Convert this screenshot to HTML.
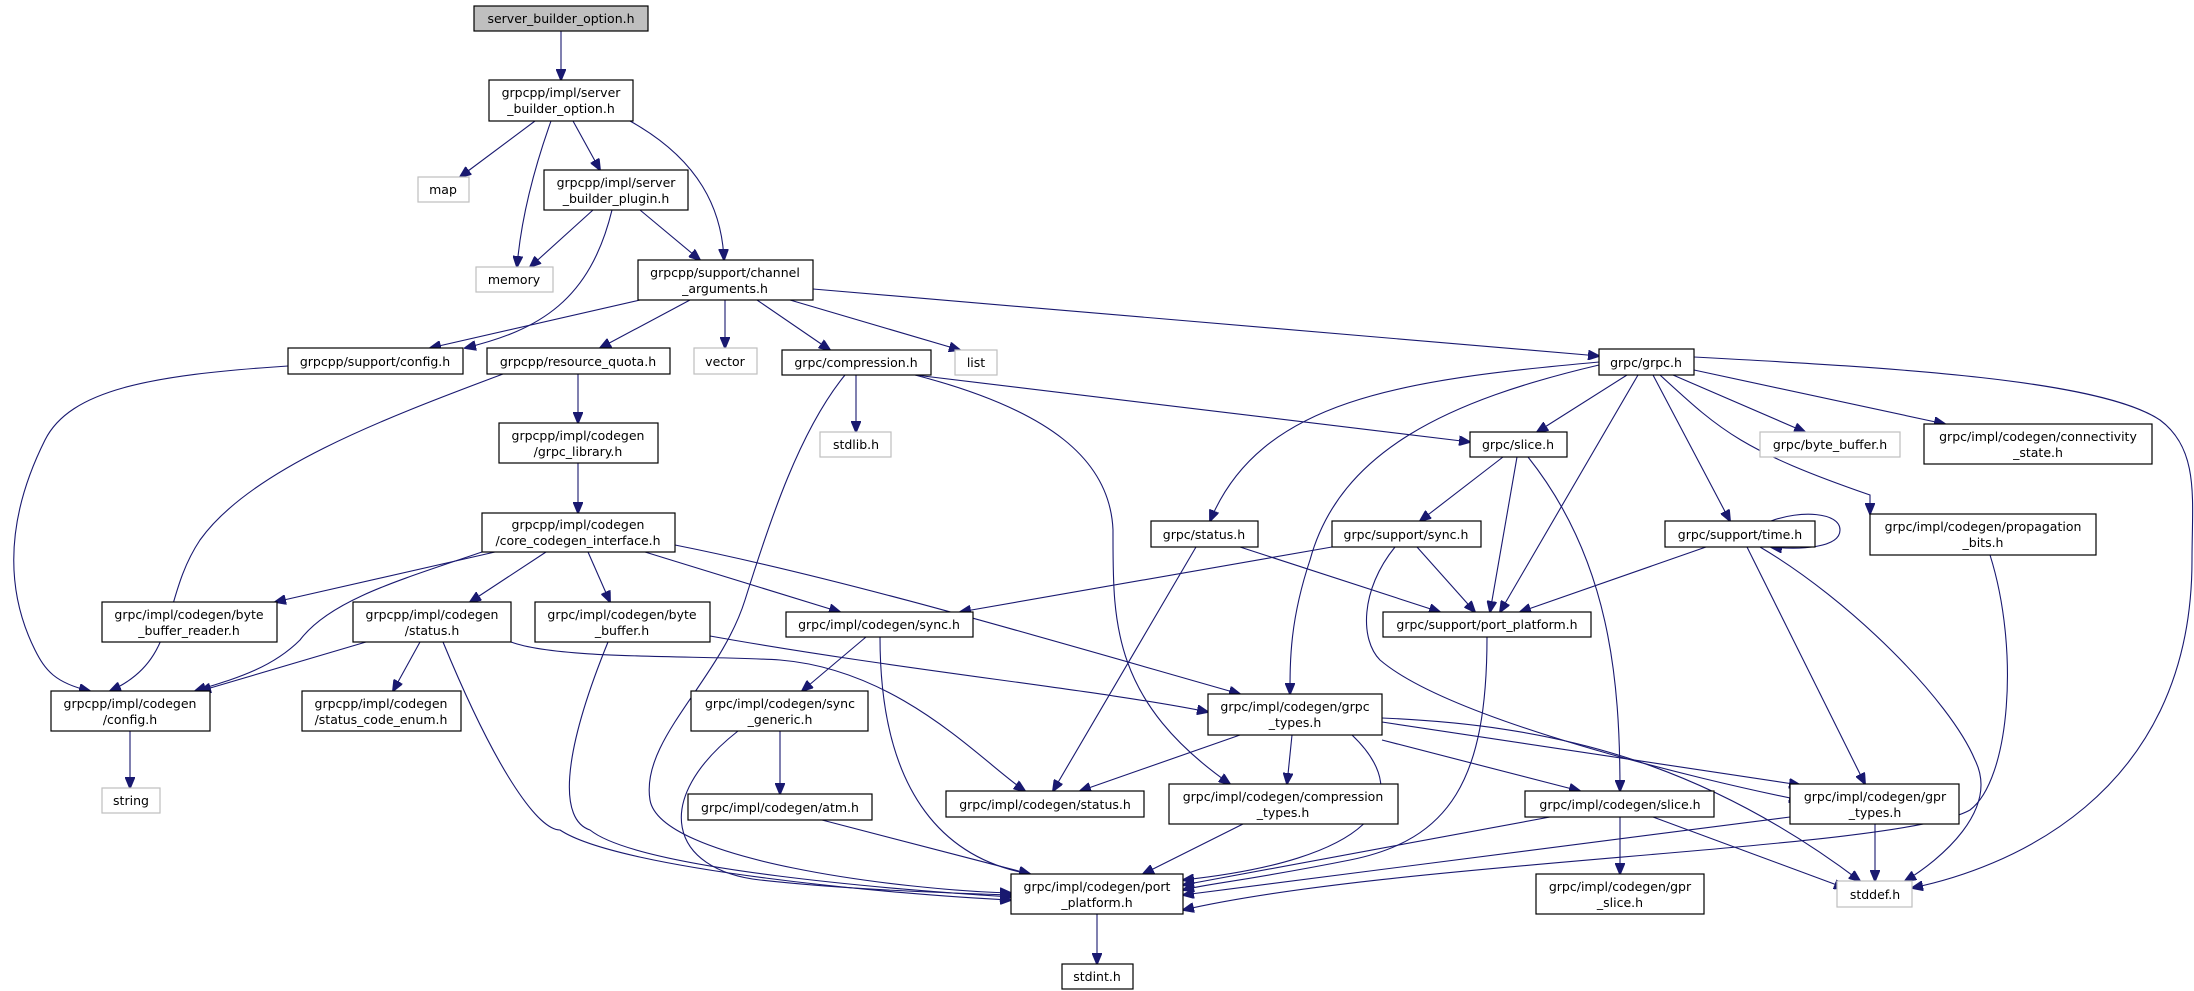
<!DOCTYPE html>
<html><head><meta charset="utf-8"><style>
html,body{margin:0;padding:0;background:#fff;}
svg{display:block}
text{font-family:"DejaVu Sans","Liberation Sans",sans-serif;font-size:12.5px;fill:#000;text-anchor:middle}
.b{fill:#fff;stroke:#000;stroke-width:1.2}
.g{fill:#fff;stroke:#bfbfbf;stroke-width:1.2}
.e{fill:none;stroke:#191970;stroke-width:1.1}
</style></head><body>
<svg width="2194" height="991" viewBox="0 0 2194 991" xmlns="http://www.w3.org/2000/svg">
<defs><marker id="a" markerWidth="12" markerHeight="10" refX="11" refY="5" orient="auto" markerUnits="userSpaceOnUse"><path d="M0,0 L12,5 L0,10 z" fill="#191970" stroke="#191970"/></marker></defs>
<g class="e" marker-end="url(#a)">
<path d="M561,31 L561,80"/>
<path d="M535,121 L460,177"/>
<path d="M551,121 C530,180 520,230 517,267"/>
<path d="M573,121 L600,170"/>
<path d="M630,121 C700,160 722,210 724,260"/>
<path d="M593,210 L530,267"/>
<path d="M640,210 L700,260"/>
<path d="M612,210 C590,300 540,330 465,348"/>
<path d="M640,300 L430,348"/>
<path d="M690,300 L600,348"/>
<path d="M725,300 L725,348"/>
<path d="M757,300 L830,350"/>
<path d="M790,300 L960,350"/>
<path d="M813,289 L1599,356"/>
<path d="M288,366 C150,375 70,390 45,440 C0,530 10,600 35,650 C45,670 55,683 90,691"/>
<path d="M503,374 C380,420 250,470 200,540 C160,600 180,660 110,691"/>
<path d="M578,374 L578,423"/>
<path d="M578,463 L578,513"/>
<path d="M845,375 C800,430 770,520 745,600 C720,680 640,740 650,800 C660,860 900,890 1011,893"/>
<path d="M856,375 L856,432"/>
<path d="M915,375 C1050,410 1110,460 1113,530 C1113,620 1110,700 1230,784"/>
<path d="M915,375 L1470,442"/>
<path d="M495,552 L275,602"/>
<path d="M482,552 C400,580 330,600 300,640 C270,670 230,680 195,691"/>
<path d="M546,552 L470,602"/>
<path d="M588,552 L610,602"/>
<path d="M645,552 L840,612"/>
<path d="M675,545 C850,580 1050,640 1240,694"/>
<path d="M366,642 L200,691"/>
<path d="M420,642 L393,691"/>
<path d="M130,731 L130,788"/>
<path d="M443,642 C500,780 540,830 560,830 C620,870 900,895 1011,900"/>
<path d="M511,642 C560,660 700,655 780,660 C900,670 980,760 1025,791"/>
<path d="M608,642 C560,760 560,820 590,830 C640,870 900,890 1011,897"/>
<path d="M710,636 C900,670 1100,690 1208,712"/>
<path d="M866,637 L802,691"/>
<path d="M880,637 C880,800 950,860 1030,874"/>
<path d="M780,731 L780,794"/>
<path d="M738,731 C650,800 670,870 760,880 C850,890 950,893 1011,895"/>
<path d="M822,820 L1030,874"/>
<path d="M1240,735 L1080,791"/>
<path d="M1292,735 L1287,784"/>
<path d="M1352,735 C1420,800 1370,860 1183,880"/>
<path d="M1382,740 L1580,791"/>
<path d="M1382,722 L1800,785"/>
<path d="M1382,718 C1550,725 1700,760 1860,881"/>
<path d="M1243,824 L1143,874"/>
<path d="M1627,375 L1537,432"/>
<path d="M1599,362 C1400,380 1260,400 1210,521"/>
<path d="M1599,365 C1450,400 1340,450 1310,560 C1290,620 1290,660 1290,694"/>
<path d="M1638,375 L1500,612"/>
<path d="M1653,375 L1730,521"/>
<path d="M1673,375 L1805,432"/>
<path d="M1694,370 L1945,424"/>
<path d="M1660,375 C1720,430 1740,450 1870,495 L1870,514"/>
<path d="M1694,357 C1900,368 2100,380 2160,420 C2200,450 2192,500 2192,560 C2192,800 2000,870 1912,888"/>
<path d="M1503,457 L1420,521"/>
<path d="M1517,457 L1490,612"/>
<path d="M1528,457 C1610,560 1620,680 1620,791"/>
<path d="M1240,547 L1440,612"/>
<path d="M1196,547 L1053,791"/>
<path d="M1332,547 L960,612"/>
<path d="M1417,547 L1475,612"/>
<path d="M1395,547 C1360,590 1360,640 1380,660 C1450,720 1700,780 1800,800"/>
<path d="M1771,521 C1800,510 1840,512 1840,530 C1840,548 1800,550 1771,547"/>
<path d="M1706,547 L1520,612"/>
<path d="M1747,547 L1865,784"/>
<path d="M1760,547 C1850,600 1950,700 1975,760 C2000,810 1940,860 1905,881"/>
<path d="M1990,555 C2020,650 2010,780 1970,810 C1900,850 1400,860 1183,910"/>
<path d="M1487,637 C1487,780 1450,840 1350,860 C1250,880 1200,885 1183,890"/>
<path d="M1550,817 L1183,885"/>
<path d="M1620,817 L1620,874"/>
<path d="M1653,817 L1845,888"/>
<path d="M1790,817 L1183,895"/>
<path d="M1875,824 L1875,881"/>
<path d="M1097,914 L1097,964"/>
</g>
<rect x="474" y="6" width="174" height="25" fill="#bfbfbf" stroke="#000" stroke-width="1.2"/><text x="561" y="23">server_builder_option.h</text>
<rect class="b" x="489" y="80" width="144" height="41"/><text x="561" y="97">grpcpp/impl/server</text><text x="561" y="113">_builder_option.h</text>
<rect class="g" x="418" y="177" width="51" height="25"/><text x="443" y="194">map</text>
<rect class="b" x="544" y="170" width="144" height="40"/><text x="616" y="187">grpcpp/impl/server</text><text x="616" y="203">_builder_plugin.h</text>
<rect class="g" x="476" y="267" width="77" height="25"/><text x="514" y="284">memory</text>
<rect class="b" x="638" y="260" width="175" height="40"/><text x="725" y="277">grpcpp/support/channel</text><text x="725" y="293">_arguments.h</text>
<rect class="b" x="288" y="348" width="175" height="26"/><text x="375" y="366">grpcpp/support/config.h</text>
<rect class="b" x="487" y="348" width="183" height="26"/><text x="578" y="366">grpcpp/resource_quota.h</text>
<rect class="g" x="694" y="348" width="63" height="26"/><text x="725" y="366">vector</text>
<rect class="b" x="782" y="350" width="149" height="25"/><text x="856" y="367">grpc/compression.h</text>
<rect class="g" x="955" y="350" width="42" height="25"/><text x="976" y="367">list</text>
<rect class="b" x="1599" y="349" width="95" height="26"/><text x="1646" y="367">grpc/grpc.h</text>
<rect class="b" x="499" y="423" width="159" height="40"/><text x="578" y="440">grpcpp/impl/codegen</text><text x="578" y="456">/grpc_library.h</text>
<rect class="g" x="820" y="432" width="71" height="25"/><text x="856" y="449">stdlib.h</text>
<rect class="b" x="1470" y="432" width="97" height="25"/><text x="1518" y="449">grpc/slice.h</text>
<rect class="g" x="1760" y="432" width="140" height="25"/><text x="1830" y="449">grpc/byte_buffer.h</text>
<rect class="b" x="1924" y="424" width="228" height="40"/><text x="2038" y="441">grpc/impl/codegen/connectivity</text><text x="2038" y="457">_state.h</text>
<rect class="b" x="482" y="513" width="193" height="39"/><text x="578" y="529">grpcpp/impl/codegen</text><text x="578" y="545">/core_codegen_interface.h</text>
<rect class="b" x="1151" y="521" width="107" height="26"/><text x="1204" y="539">grpc/status.h</text>
<rect class="b" x="1332" y="521" width="149" height="26"/><text x="1406" y="539">grpc/support/sync.h</text>
<rect class="b" x="1665" y="521" width="150" height="26"/><text x="1740" y="539">grpc/support/time.h</text>
<rect class="b" x="1870" y="514" width="226" height="41"/><text x="1983" y="531">grpc/impl/codegen/propagation</text><text x="1983" y="547">_bits.h</text>
<rect class="b" x="102" y="602" width="175" height="40"/><text x="189" y="619">grpc/impl/codegen/byte</text><text x="189" y="635">_buffer_reader.h</text>
<rect class="b" x="353" y="602" width="158" height="40"/><text x="432" y="619">grpcpp/impl/codegen</text><text x="432" y="635">/status.h</text>
<rect class="b" x="535" y="602" width="175" height="40"/><text x="622" y="619">grpc/impl/codegen/byte</text><text x="622" y="635">_buffer.h</text>
<rect class="b" x="786" y="612" width="187" height="25"/><text x="879" y="629">grpc/impl/codegen/sync.h</text>
<rect class="b" x="1383" y="612" width="208" height="25"/><text x="1487" y="629">grpc/support/port_platform.h</text>
<rect class="b" x="51" y="691" width="159" height="40"/><text x="130" y="708">grpcpp/impl/codegen</text><text x="130" y="724">/config.h</text>
<rect class="b" x="302" y="691" width="159" height="40"/><text x="381" y="708">grpcpp/impl/codegen</text><text x="381" y="724">/status_code_enum.h</text>
<rect class="b" x="691" y="691" width="177" height="40"/><text x="780" y="708">grpc/impl/codegen/sync</text><text x="780" y="724">_generic.h</text>
<rect class="b" x="1208" y="694" width="174" height="41"/><text x="1295" y="711">grpc/impl/codegen/grpc</text><text x="1295" y="727">_types.h</text>
<rect class="g" x="102" y="788" width="58" height="25"/><text x="131" y="805">string</text>
<rect class="b" x="688" y="794" width="184" height="26"/><text x="780" y="812">grpc/impl/codegen/atm.h</text>
<rect class="b" x="946" y="791" width="198" height="26"/><text x="1045" y="809">grpc/impl/codegen/status.h</text>
<rect class="b" x="1169" y="784" width="229" height="40"/><text x="1283" y="801">grpc/impl/codegen/compression</text><text x="1283" y="817">_types.h</text>
<rect class="b" x="1525" y="791" width="189" height="26"/><text x="1620" y="809">grpc/impl/codegen/slice.h</text>
<rect class="b" x="1790" y="784" width="169" height="40"/><text x="1875" y="801">grpc/impl/codegen/gpr</text><text x="1875" y="817">_types.h</text>
<rect class="b" x="1011" y="874" width="172" height="40"/><text x="1097" y="891">grpc/impl/codegen/port</text><text x="1097" y="907">_platform.h</text>
<rect class="b" x="1536" y="874" width="168" height="40"/><text x="1620" y="891">grpc/impl/codegen/gpr</text><text x="1620" y="907">_slice.h</text>
<rect class="g" x="1837" y="881" width="75" height="26"/><text x="1875" y="899">stddef.h</text>
<rect class="b" x="1062" y="964" width="71" height="25"/><text x="1097" y="981">stdint.h</text>
</svg>
</body></html>
